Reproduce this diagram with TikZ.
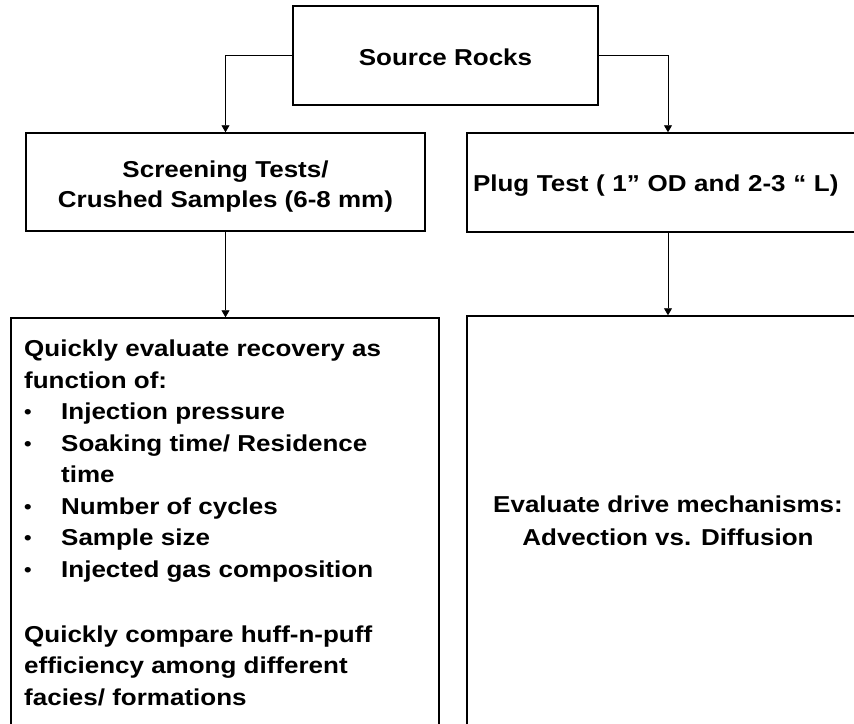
\documentclass[tikz,border=0pt]{standalone}
\usepackage{fontspec}
\setmainfont{Liberation Sans}[FakeStretch=1.13]
\usetikzlibrary{arrows.meta}
\newcommand{\bul}{\makebox[37pt][l]{\raisebox{1pt}{\fontsize{19}{19}\selectfont\textbullet}}}
\tikzset{
    box/.style={draw, line width=1.5pt, inner sep=0pt, align=center, font=\fontsize{23}{30}\selectfont\bfseries},
    txt/.style={inner sep=0pt, align=left, font=\fontsize{23}{31.5}\selectfont\bfseries},
    arr/.style={-{Triangle[length=7pt,width=8pt]}, line width=0.9pt},
}
\begin{document}
\begin{tikzpicture}[x=1pt,y=-1pt]
        \useasboundingbox (0,0) rectangle (854,723);
        \clip (0,0) rectangle (854,723);
        \node [box, minimum width=305pt, minimum height=99pt, text height=20pt] (src) at(445.5,55.5) {Source Rocks};
        \node [box, minimum width=399pt, minimum height=98pt, text height=55pt] (screen) at(225.5,182) {Screening Tests/\\Crushed Samples (6-8 mm)};
        \node [box, minimum height=99pt, text width=390pt, inner xsep=6pt, align=left, text height=23pt] (plug) at(668,182.5) {Plug Test ( 1” OD and 2-3 “ L)};
        \node [box, minimum width=428pt, minimum height=410pt] (recovbox) at(225,523) {};
        \node [box, minimum width=402pt, minimum height=410pt, font=\fontsize{23}{33}\selectfont\bfseries] (drive) at(668,521) {Evaluate drive mechanisms:\\Advection vs. Diffusion};
        \node [txt, anchor=north west] (recov) at(24,340) {Quickly evaluate recovery as\\
            function of:\\
            \bul Injection pressure\\
            \bul Soaking time/ Residence\\
            \hspace*{37pt}time\\
            \bul Number of cycles\\
            \bul Sample size\\
            \bul Injected gas composition\\[33.5pt]
            Quickly compare huff-n-puff\\
            efficiency among different\\
            facies/ formations};
        \draw [arr] (src.west) -| (screen.north);
        \draw [arr] (src.east) -| (plug.north);
        \draw [arr] (screen.south) -- (screen.south |- recovbox.north);
        \draw [arr] (plug.south) -- (drive.north);
    \end{tikzpicture}
\end{document}
